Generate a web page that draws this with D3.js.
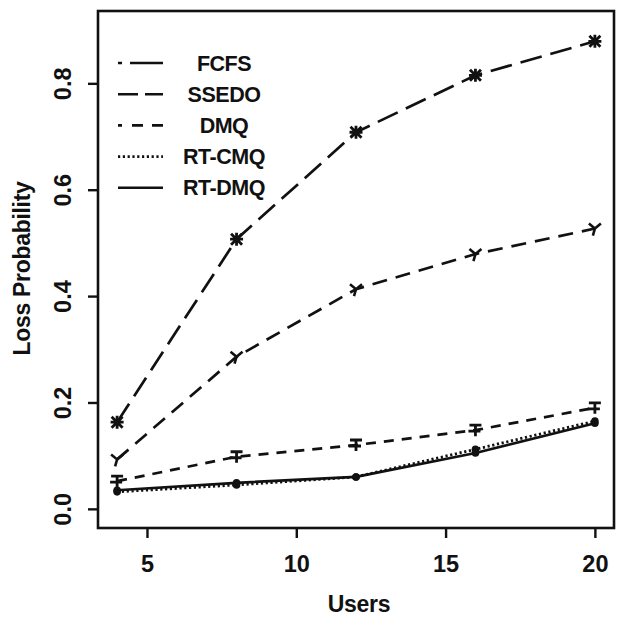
<!DOCTYPE html>
<html><head><meta charset="utf-8">
<script src="https://cdn.jsdelivr.net/npm/d3@7"></script>
<style>body{margin:0;background:#fff}svg text{font-family:"Liberation Sans",Arial,sans-serif;font-weight:bold;fill:#111}</style>
</head><body><div id="chart"></div>
<script>
const users = [4, 8, 12, 16, 20];
const seriesNames = ["FCFS", "SSEDO", "DMQ", "RT-CMQ", "RT-DMQ"];
const fcfs  = [0.163, 0.507, 0.708, 0.815, 0.879];
const ssedo = [0.093, 0.286, 0.413, 0.479, 0.527];
const dmq   = [0.052, 0.098, 0.120, 0.148, 0.190];
const rtcmq = [0.032, 0.045, 0.060, 0.112, 0.165];
const rtdmq = [0.035, 0.049, 0.060, 0.105, 0.161];
const xTicks = [5, 10, 15, 20];
const yTicks = [0.0, 0.2, 0.4, 0.6, 0.8];
const xLabel = "Users", yLabel = "Loss Probability";

const values = [fcfs, ssedo, dmq, rtcmq, rtdmq];
const dashes = ["22,9", "15,9", "10,8", "2.2,2.6", null];
const legendDashes = ["4,8,40,10", "20,7,30", "4,10,11,9,15,10", "2.2,2.6", null];
const markers = ["star", "tri", "tee", "dot", "dot"];

const W = 617, H = 620;
const L = 98, R = 614, T = 11, B = 528;
const svg = d3.select("#chart").append("svg").attr("width", W).attr("height", H);
const x = d3.scaleLinear().domain([3.36, 20.64]).range([L, R]);
const y = d3.scaleLinear().domain([-0.036, 0.936]).range([B, T]);

// frame
svg.append("rect").attr("x", L).attr("y", T).attr("width", R - L).attr("height", B - T)
  .attr("fill", "none").attr("stroke", "#111").attr("stroke-width", 2.6);

// axes
const xAxis = svg.append("g").attr("transform", `translate(0,${B})`)
  .call(d3.axisBottom(x).tickValues(xTicks).tickSize(10).tickPadding(17).tickFormat(d3.format("d")));
const yAxis = svg.append("g").attr("transform", `translate(${L},0)`)
  .call(d3.axisLeft(y).tickValues(yTicks).tickSize(10).tickFormat(d3.format(".1f")));
[xAxis, yAxis].forEach(a => {
  a.select(".domain").remove();
  a.selectAll(".tick line").attr("stroke", "#111").attr("stroke-width", 2.4);
  a.selectAll("text").attr("font-size", 23.5).attr("font-family", "Liberation Sans, Arial").attr("font-weight", "bold").attr("fill", "#111");
});
xAxis.selectAll("text").attr("dy", "0.71em");
yAxis.selectAll(".tick text").attr("x", null).attr("dy", null)
  .attr("transform", "translate(-27,0) rotate(-90)").attr("text-anchor", "middle").attr("y", 0);

svg.append("text").attr("x", (L + R) / 2 + 3).attr("y", 612).attr("text-anchor", "middle")
  .attr("font-size", 23).attr("letter-spacing", -0.3).text(xLabel);
svg.append("text").attr("transform", `translate(30,${(T + B) / 2 - 1}) rotate(-90)`).attr("text-anchor", "middle")
  .attr("font-size", 23).attr("letter-spacing", -0.3).text(yLabel);

// lines
const line = d3.line().x((d, i) => x(users[i])).y(d => y(d));
values.forEach((vals, k) => {
  svg.append("path").datum(vals).attr("d", line).attr("fill", "none")
    .attr("stroke", "#111").attr("stroke-width", k === 3 ? 2.8 : 2.7)
    .attr("stroke-dasharray", dashes[k]);
});

function marker(g, type, cx, cy) {
  const s = 5.5;
  if (type === "star") {
    g.append("path").attr("d", `M${cx - s},${cy - s}L${cx + s},${cy + s}M${cx - s},${cy + s}L${cx + s},${cy - s}M${cx - s - 1},${cy}L${cx + s + 1},${cy}M${cx},${cy - s - 1}L${cx},${cy + s + 1}`)
      .attr("stroke", "#111").attr("stroke-width", 2.8).attr("fill", "none");
  } else if (type === "tri") {
    g.append("path").attr("d", `M${cx - 6},${cy - 5}L${cx},${cy}L${cx + 6},${cy - 5}M${cx},${cy}L${cx - 2},${cy + 7}`)
      .attr("stroke", "#111").attr("stroke-width", 2.6).attr("fill", "none");
  } else if (type === "tee") {
    g.append("path").attr("d", `M${cx - 6},${cy - 5}L${cx + 6},${cy - 5}M${cx},${cy - 5}L${cx},${cy + 6}M${cx - 7},${cy + 1}L${cx + 5},${cy + 1}`)
      .attr("stroke", "#111").attr("stroke-width", 2.8).attr("fill", "none");
  } else {
    g.append("circle").attr("cx", cx).attr("cy", cy).attr("r", 3.8).attr("fill", "#111");
  }
}
values.forEach((vals, k) => {
  const g = svg.append("g");
  vals.forEach((v, i) => marker(g, markers[k], x(users[i]), y(v)));
});

// legend
const lg = svg.append("g");
seriesNames.forEach((name, k) => {
  const ly = 63 + k * 31.2;
  lg.append("line").attr("x1", 118).attr("x2", 163).attr("y1", ly).attr("y2", ly)
    .attr("stroke", "#111").attr("stroke-width", 2.6).attr("stroke-dasharray", legendDashes[k]);
  lg.append("text").attr("x", 224).attr("y", ly + 7.5).attr("text-anchor", "middle")
    .attr("font-size", 21.5).attr("letter-spacing", -0.5).text(name);
});
</script></body></html>
